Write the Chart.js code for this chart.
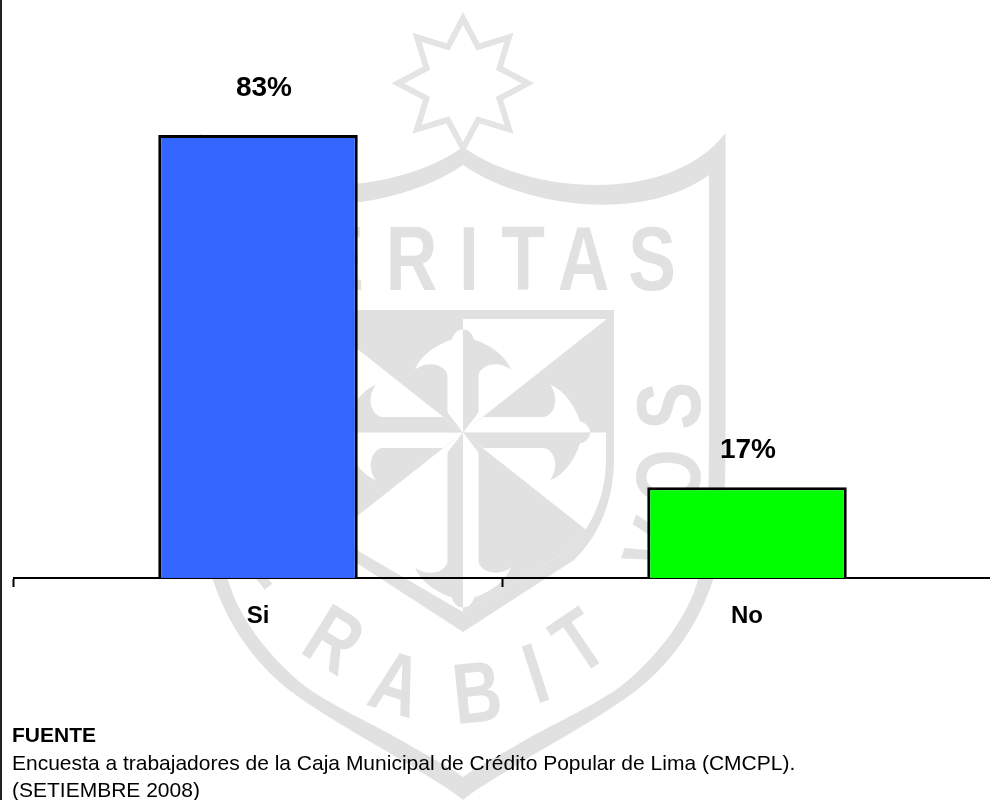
<!DOCTYPE html>
<html>
<head>
<meta charset="utf-8">
<title>Encuesta CMCPL</title>
<script src="https://cdn.jsdelivr.net/npm/chart.js@4/dist/chart.umd.js"></script>
<style>
html, body { margin: 0; padding: 0; background: #fff; overflow: hidden; width: 990px; height: 800px; }
#grafico { position: absolute; left: 0; top: 0; }
#borde { position: absolute; left: 0; top: 0; width: 2px; height: 800px; background: #222; }
.fuente { position: absolute; left: 12px; font: 21px "Liberation Sans", Arial, sans-serif; color: #000; white-space: nowrap; line-height: 24px; }
</style>
</head>
<body>
<canvas id="grafico" width="992" height="800"></canvas>
<div id="borde"></div>
<div class="fuente" style="top:723px;font-weight:bold">FUENTE</div>
<div class="fuente" style="top:751px">Encuesta a trabajadores de la Caja Municipal de Crédito Popular de Lima (CMCPL).</div>
<div class="fuente" style="top:778px">(SETIEMBRE 2008)</div>
<script>
var categorias = ['Si', 'No'];
var valores = [83, 17];
var colores = ['#3366ff', '#00ff00'];

//corrimiento de las etiquetas de % respecto a la barra
var etiqueta_dx = [6, 1];
var etiqueta_dy = [-47, -37];

var gris = '#e1e1e1';
var cx = 463, cy = 432.5;

/*******************************************************/
/*marca de agua: media silueta, la otra mitad es espejo*/
var escudo_ext = [[463,147],[530,195,670,205,725.5,133],[725.5,440],[725.5,510,722,550,713,580],[700,620,675,660,637,690],[600,718,540,750,520,763],[495,778,475,790,463,800]];
var escudo_int = [[463,165],[520,205,640,225,709,175],[709,440],[709,510,706,550,698,580],[688,615,660,655,620,687],[590,708,545,728,520,743],[500,755,480,765,463,777]];
var blason_ext = [[463,310],[614,310],[614,459],[614,490,605,530,574,560],[463,632]];
var blason_int = [[463,319],[606,319],[606,459],[606,490,596,525,566,552],[463,612]];

var letras = [
	['E', 340, 257, 0, 66], ['R', 411.5, 257, 0, 66], ['I', 469, 257, 0, 66], ['T', 523, 257, 0, 66], ['A', 583.5, 257, 0, 66], ['S', 652, 257, 0, 66],
	['S', 667, 406, -90, 66], ['O', 667, 477, -88, 66], ['V', 657, 546, -71, 66],
	['E', 277, 555, 52, 62], ['R', 335, 638, 32, 62], ['A', 397, 682, 17, 62], ['B', 477, 691, -6, 62], ['I', 535, 672, -18, 62], ['T', 578, 640, -34, 62]
];

function silueta(segs) {
	var p = new Path2D();
	[1, -1].forEach(function(s) {
		var fx = function(x) { return cx + s * (x - cx); };
		segs.forEach(function(g, i) {
			if (i == 0) p.moveTo(fx(g[0]), g[1]);
			else if (g.length == 2) p.lineTo(fx(g[0]), g[1]);
			else p.bezierCurveTo(fx(g[0]), g[1], fx(g[2]), g[3], fx(g[4]), g[5]);
		});
		p.closePath();
	});
	return p;
}

function estrella(ctx) {
	ctx.beginPath();
	for (var i = 0; i < 16; i++) {
		var r = i % 2 == 0 ? 65 : 39.5;
		var a = -Math.PI / 2 + i * Math.PI / 8;
		ctx.lineTo(cx + r * Math.cos(a), 83.3 + r * Math.sin(a));
	}
	ctx.closePath();
	ctx.lineWidth = 6;
	ctx.miterLimit = 10;
	ctx.strokeStyle = '#e4e4e4';
	ctx.stroke();
}

//media cruz: apunta a la derecha, largo variable
function mediaCruz(ctx, largo, signo, color) {
	var d = largo - 127;
	ctx.beginPath();
	ctx.moveTo(0, 0);
	ctx.lineTo(20, signo * -15.5);
	ctx.lineTo(80 + d, signo * -15.5);
	ctx.bezierCurveTo(90 + d, signo * -15.5, 98 + d, signo * -33, 87 + d, signo * -48);
	ctx.bezierCurveTo(102 + d, signo * -42, 112 + d, signo * -26, 117 + d, signo * -11);
	ctx.bezierCurveTo(122 + d, signo * -10, 127 + d, signo * -6, 127 + d, 0);
	ctx.closePath();
	ctx.fillStyle = color;
	ctx.fill();
}

function cruz(ctx) {
	ctx.save();
	ctx.beginPath();
	ctx.clip(silueta(blason_int));
	ctx.fillStyle = gris;
	[
		[[0,0],[190,-150],[190,0]],
		[[0,0],[190,150],[190,300],[0,300]],
		[[0,0],[-190,150],[-190,0]],
		[[0,0],[-190,-150],[-190,-300],[0,-300]]
	].forEach(function(t) {
		ctx.beginPath();
		t.forEach(function(q) { ctx.lineTo(cx + q[0], cy + q[1]); });
		ctx.closePath();
		ctx.fill();
	});
	//largos: derecha, abajo, izquierda, arriba
	[127, 175, 127, 103].forEach(function(l, i) {
		ctx.save();
		ctx.translate(cx, cy);
		ctx.rotate(i * Math.PI / 2);
		mediaCruz(ctx, l, 1, '#ffffff');
		mediaCruz(ctx, l, -1, gris);
		ctx.restore();
	});
	ctx.restore();
}

var marca_agua = {
	id: 'marca_agua',
	beforeDraw: function(chart) {
		var ctx = chart.ctx;
		ctx.save();
		estrella(ctx);
		ctx.fillStyle = gris;
		ctx.fill(silueta(escudo_ext));
		ctx.fillStyle = '#ffffff';
		ctx.fill(silueta(escudo_int));
		ctx.fillStyle = gris;
		ctx.fill(silueta(blason_ext));
		ctx.fillStyle = '#ffffff';
		ctx.fill(silueta(blason_int));
		cruz(ctx);
		ctx.fillStyle = gris;
		ctx.textAlign = 'center';
		ctx.textBaseline = 'alphabetic';
		letras.forEach(function(l) {
			var tam = l[4] / 0.72;
			ctx.save();
			ctx.translate(l[1], l[2]);
			ctx.rotate(l[3] * Math.PI / 180);
			ctx.scale(0.78, 1);
			ctx.font = 'bold ' + tam + 'px "Liberation Sans"';
			ctx.fillText(l[0], 0, l[4] / 2);
			ctx.restore();
		});
		ctx.restore();
	}
};

/*******************************************************/
var etiquetas_valor = {
	id: 'etiquetas_valor',
	afterDatasetsDraw: function(chart) {
		var ctx = chart.ctx;
		ctx.save();
		ctx.font = 'bold 28px "Liberation Sans"';
		ctx.fillStyle = '#000';
		ctx.textAlign = 'center';
		ctx.textBaseline = 'middle';
		chart.getDatasetMeta(0).data.forEach(function(barra, i) {
			ctx.fillText(valores[i] + '%', barra.x + etiqueta_dx[i], barra.y + etiqueta_dy[i]);
		});
		ctx.restore();
	}
};

var configuracion = {
	type: 'bar',
	data: {
		labels: categorias,
		datasets: [{
			data: valores,
			backgroundColor: colores,
			borderColor: '#000',
			borderWidth: 3,
			barPercentage: 0.408,
			categoryPercentage: 1
		}]
	},
	options: {
		responsive: false,
		animation: false,
		layout: { padding: { left: 13.5, right: 0.5, top: 44.3, bottom: 162 } },
		plugins: { legend: { display: false }, title: { display: false }, tooltip: { enabled: false } },
		scales: {
			x: {
				afterFit: function(s) { s.height = 60; },
				border: { color: '#000', width: 2 },
				grid: { display: true, offset: true, drawOnChartArea: false, drawTicks: true, tickLength: 9, tickWidth: 2, tickColor: '#000' },
				ticks: { color: '#000', padding: 15, font: { family: '"Liberation Sans"', size: 24, weight: 'bold' } }
			},
			y: { display: false, min: 0, max: 100 }
		}
	},
	plugins: [marca_agua, etiquetas_valor]
};

new Chart(document.getElementById('grafico').getContext('2d'), configuracion);
</script>
</body>
</html>
